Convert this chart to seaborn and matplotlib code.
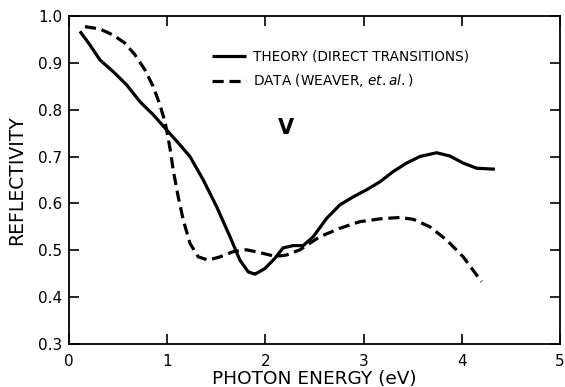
import matplotlib
matplotlib.use("Agg")
import matplotlib.pyplot as plt
import seaborn as sns
import pandas as pd

theory_x = [0.112, 0.214, 0.316, 0.451, 0.587, 0.723, 0.859, 0.994, 1.13, 1.232, 1.368,
            1.504, 1.64, 1.741, 1.826, 1.894, 1.996, 2.098, 2.18, 2.284, 2.386, 2.488,
            2.624, 2.76, 2.895, 3.031, 3.167, 3.303, 3.439, 3.574, 3.744, 3.88, 4.015,
            4.152, 4.338]
theory_y = [0.967, 0.938, 0.906, 0.881, 0.853, 0.817, 0.789, 0.757, 0.725, 0.700, 0.650,
            0.593, 0.529, 0.479, 0.454, 0.449, 0.461, 0.483, 0.505, 0.510, 0.510, 0.529,
            0.568, 0.597, 0.614, 0.629, 0.646, 0.668, 0.686, 0.700, 0.708, 0.701, 0.686,
            0.675, 0.673]

data_x = [0.163, 0.316, 0.451, 0.57, 0.672, 0.774, 0.859, 0.927, 0.978, 1.011, 1.035,
          1.062, 1.113, 1.164, 1.232, 1.317, 1.419, 1.538, 1.673, 1.809, 1.945, 2.081,
          2.149, 2.217, 2.352, 2.556, 2.76, 2.963, 3.167, 3.371, 3.507, 3.676, 3.846,
          4.015, 4.202]
data_y = [0.977, 0.972, 0.959, 0.942, 0.917, 0.885, 0.849, 0.810, 0.774, 0.739, 0.710,
          0.671, 0.614, 0.565, 0.515, 0.486, 0.479, 0.486, 0.497, 0.501, 0.495, 0.488,
          0.488, 0.490, 0.501, 0.529, 0.547, 0.561, 0.567, 0.570, 0.566, 0.550, 0.522,
          0.486, 0.433]

series_labels = ["THEORY (DIRECT TRANSITIONS)", r"DATA (WEAVER, $\mathit{et.al.}$)"]
x_ticks = [0, 1, 2, 3, 4, 5]
y_ticks = [0.3, 0.4, 0.5, 0.6, 0.7, 0.8, 0.9, 1.0]

sns.set_style("ticks")
plt.rcParams["font.family"] = ["DejaVu Sans"]
plt.rcParams["text.color"] = "black"
plt.rcParams["axes.labelcolor"] = "black"
plt.rcParams["xtick.color"] = "black"
plt.rcParams["ytick.color"] = "black"

df = pd.concat([
    pd.DataFrame({"x": theory_x, "y": theory_y, "s": series_labels[0]}),
    pd.DataFrame({"x": data_x, "y": data_y, "s": series_labels[1]}),
])

fig = plt.figure(figsize=(5.65, 3.87), dpi=100)
ax = fig.add_axes([0.122, 0.111, 0.869, 0.848])
sns.lineplot(data=df, x="x", y="y", hue="s", style="s",
             palette=["black", "black"], dashes=[(1, 0), (3.5, 1.8)],
             linewidth=2.3, sort=False, ax=ax, legend=True)
for ln in ax.lines:
    ln.set_solid_joinstyle("round")
    ln.set_dash_joinstyle("round")

ax.set_xlim(0, 5)
ax.set_ylim(0.3, 1.0)
ax.set_xticks(x_ticks)
ax.set_xticklabels([str(t) for t in x_ticks])
ax.set_yticks(y_ticks)
ax.set_yticklabels([f"{t:.1f}" for t in y_ticks])
ax.tick_params(direction="in", length=7, width=1.2, top=True, right=True,
               labelsize=11, colors="black")
ax.tick_params(axis="x", pad=7)
ax.tick_params(axis="y", pad=5)
for sp in ax.spines.values():
    sp.set_linewidth(1.3)
    sp.set_color("black")

ax.set_xlabel("PHOTON ENERGY (eV)", fontsize=13.3, labelpad=1)
ax.set_ylabel("REFLECTIVITY", fontsize=13.5, labelpad=8)

leg = ax.legend(loc="upper left", bbox_to_anchor=(0.291, 0.896), frameon=False,
                fontsize=9.8, handlelength=2.5, handletextpad=0.55,
                labelspacing=0.62, borderpad=0, borderaxespad=0)
for t in leg.get_texts():
    t.set_color("black")
ax.text(2.21, 0.761, "V", fontsize=15, fontweight="bold", ha="center", va="center",
        color="black")

fig.savefig("out.png", dpi=100)
